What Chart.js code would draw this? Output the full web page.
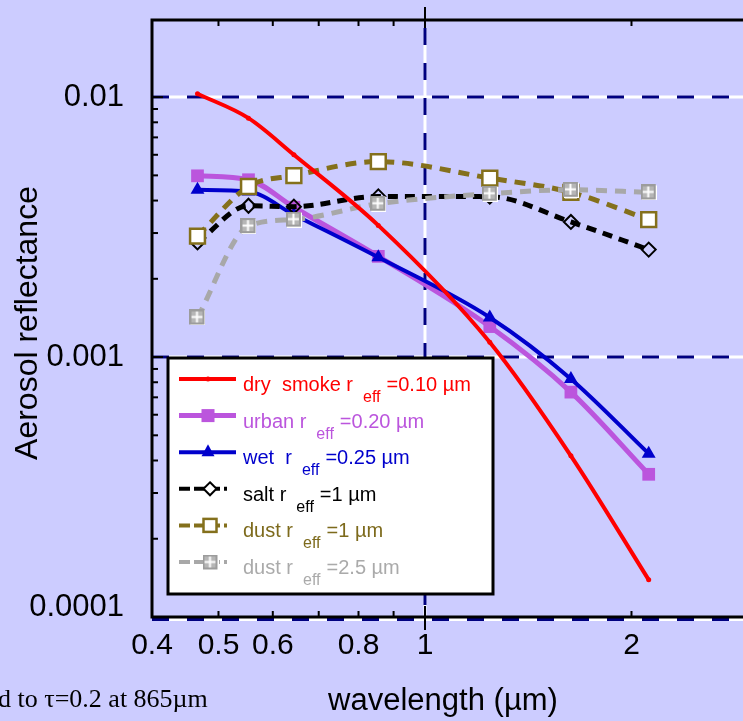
<!DOCTYPE html>
<html>
<head>
<meta charset="utf-8">
<script src="https://cdn.jsdelivr.net/npm/chart.js@4.4.0/dist/chart.umd.min.js"></script>
<style>
  html, body { margin: 0; padding: 0; background: #ccccff; overflow: hidden; }
  canvas { display: block; }
</style>
</head>
<body>
<canvas id="myChart" width="743" height="721"></canvas>
<script>
const ctx = document.getElementById('myChart');

// wavelength (um) and aerosol reflectance
const wavelengths = [0.466, 0.553, 0.644, 0.855, 1.243, 1.632, 2.119];
const drySmoke = [0.0103, 0.0083, 0.0060, 0.00321, 0.00114, 0.000417, 0.000139];
const urban = [0.00498, 0.00481, 0.00377, 0.00244, 0.00131, 0.000733, 0.000354];
const wet = [0.00440, 0.00433, 0.00353, 0.00242, 0.00142, 0.000824, 0.000425];
const salt = [0.00276, 0.00382, 0.00379, 0.00415, 0.00414, 0.00331, 0.00259];
const dust1 = [0.00292, 0.00453, 0.00499, 0.00565, 0.00488, 0.00430, 0.00338];
const dust25 = [0.00142, 0.00319, 0.00338, 0.00389, 0.00425, 0.00440, 0.00430];

const xTickLabels = [0.4, 0.5, 0.6, 0.8, 1, 2];
const xMinorTicks = [0.5, 0.6, 0.7, 0.8, 0.9, 2];
const yTickLabels = [0.01, 0.001, 0.0001];
const yMinorTicks = [0.0002, 0.0003, 0.0004, 0.0005, 0.0006, 0.0007, 0.0008, 0.0009,
  0.002, 0.003, 0.004, 0.005, 0.006, 0.007, 0.008, 0.009];

const font = '"Liberation Sans", Arial, sans-serif';
const olive = '#84701c';
const grey = '#a8a8a8';

// grey "boxed plus" marker
const gridMark = document.createElement('canvas');
gridMark.width = 16; gridMark.height = 16;
(function () {
  const g = gridMark.getContext('2d');
  g.fillStyle = '#ffffff'; g.fillRect(1, 1, 15, 15);
  g.fillStyle = '#9c9c9c'; g.fillRect(0, 0, 15, 15);
  g.fillStyle = '#b6b6b6'; g.fillRect(2, 2, 11, 11);
  g.fillStyle = '#ffffff'; g.fillRect(6.5, 2, 2, 11); g.fillRect(2, 6.5, 11, 2);
})();

const pts = arr => wavelengths.map((w, i) => ({ x: w, y: arr[i] }));

const legendRows = [
  { main: 'dry  smoke r', sub: 'eff', rest: '=0.10 \u00b5m', color: '#ff0000', text: '#ff0000', width: 4, dash: [], mark: 'dot' },
  { main: 'urban r', sub: 'eff', rest: '=0.20 \u00b5m', color: '#bb55dd', text: '#bb55dd', width: 5, dash: [], mark: 'square' },
  { main: 'wet  r', sub: 'eff', rest: '=0.25 \u00b5m', color: '#0000cc', text: '#0000cc', width: 4, dash: [], mark: 'triangle' },
  { main: 'salt r', sub: 'eff', rest: '=1 \u00b5m', color: '#000000', text: '#000000', width: 4, dash: [11, 4], mark: 'diamond' },
  { main: 'dust r', sub: 'eff', rest: '=1 \u00b5m', color: olive, text: '#7d6a1c', width: 4, dash: [11, 4], mark: 'open' },
  { main: 'dust r', sub: 'eff', rest: '=2.5 \u00b5m', color: grey, text: '#aaaaaa', width: 4, dash: [11, 4], mark: 'grid' }
];

function drawMark(c, kind, color, x, y) {
  c.save();
  c.setLineDash([]);
  if (kind === 'dot') {
    c.fillStyle = color; c.beginPath(); c.arc(x, y, 2.5, 0, Math.PI * 2); c.fill();
  } else if (kind === 'square') {
    c.fillStyle = color; c.fillRect(x - 6.5, y - 6.5, 13, 13);
  } else if (kind === 'triangle') {
    c.fillStyle = color; c.beginPath();
    c.moveTo(x, y - 8); c.lineTo(x + 6.5, y + 4); c.lineTo(x - 6.5, y + 4); c.closePath(); c.fill();
  } else if (kind === 'diamond') {
    c.strokeStyle = color; c.lineWidth = 2; c.fillStyle = '#ffffff'; c.beginPath();
    c.moveTo(x, y - 6.5); c.lineTo(x + 6.5, y); c.lineTo(x, y + 6.5); c.lineTo(x - 6.5, y); c.closePath();
    c.fill(); c.stroke();
  } else if (kind === 'open') {
    c.fillStyle = '#ffffff'; c.strokeStyle = color; c.lineWidth = 2.5;
    c.fillRect(x - 6.5, y - 6.5, 13, 13); c.strokeRect(x - 6.5, y - 6.5, 13, 13);
  } else if (kind === 'grid') {
    c.drawImage(gridMark, x - 7.5, y - 7.5);
  }
  c.restore();
}

const decorations = {
  id: 'decorations',
  beforeDatasetsDraw(chart) {
    const c = chart.ctx;
    const a = chart.chartArea;
    const xs = chart.scales.x, ys = chart.scales.y;
    const dashed = (x1, y1, x2, y2) => {
      c.save();
      c.lineWidth = 3;
      c.strokeStyle = '#ffffff';
      c.beginPath(); c.moveTo(x1, y1); c.lineTo(x2, y2); c.stroke();
      c.setLineDash([17, 18]);
      c.strokeStyle = '#000080';
      c.beginPath(); c.moveTo(x1, y1); c.lineTo(x2, y2); c.stroke();
      c.restore();
    };
    yTickLabels.forEach(v => {
      let py = ys.getPixelForValue(v);
      if (v === 0.0001) py += 2.5;
      dashed(a.left, py, a.right, py);
    });
    const px = xs.getPixelForValue(1);
    dashed(px, a.top + 8, px, a.bottom);
  },
  afterDatasetsDraw(chart) {
    const c = chart.ctx;
    const a = chart.chartArea;
    const xs = chart.scales.x, ys = chart.scales.y;
    c.save();
    c.strokeStyle = '#000000';
    // frame
    c.lineWidth = 3;
    c.beginPath();
    c.moveTo(a.right, a.top); c.lineTo(a.left, a.top); c.lineTo(a.left, a.bottom); c.lineTo(a.right, a.bottom);
    c.stroke();
    // ticks pointing inward
    c.lineWidth = 2;
    xMinorTicks.forEach(v => {
      const px = xs.getPixelForValue(v);
      c.beginPath(); c.moveTo(px, a.top); c.lineTo(px, a.top + 6); c.stroke();
      c.beginPath(); c.moveTo(px, a.bottom); c.lineTo(px, a.bottom - 6); c.stroke();
    });
    const one = xs.getPixelForValue(1);
    c.beginPath(); c.moveTo(one, a.top - 13); c.lineTo(one, a.top + 8); c.stroke();
    c.beginPath(); c.moveTo(one, a.bottom - 11); c.lineTo(one, a.bottom + 13); c.stroke();
    yMinorTicks.forEach(v => {
      const py = ys.getPixelForValue(v);
      c.beginPath(); c.moveTo(a.left, py); c.lineTo(a.left + 6, py); c.stroke();
    });
    [0.01, 0.001].forEach(v => {
      const py = ys.getPixelForValue(v);
      c.beginPath(); c.moveTo(a.left, py); c.lineTo(a.left + 11, py); c.stroke();
    });

    // tick labels
    c.fillStyle = '#000000';
    c.font = '30px ' + font;
    c.textAlign = 'center';
    c.textBaseline = 'middle';
    xTickLabels.forEach(v => c.fillText(String(v), xs.getPixelForValue(v), 646));
    c.textAlign = 'right';
    c.font = '31px ' + font;
    yTickLabels.forEach(v => {
      let py = ys.getPixelForValue(v);
      if (v === 0.0001) py -= 10;
      c.fillText(String(v), 124, py);
    });

    // axis titles
    c.textBaseline = 'alphabetic';
    c.textAlign = 'center';
    c.font = '31px ' + font;
    c.fillText('wavelength (\u00b5m)', 443, 710);
    c.save();
    c.translate(37, 323);
    c.rotate(-Math.PI / 2);
    c.font = '32px ' + font;
    c.fillText('Aerosol reflectance', 0, 0);
    c.restore();

    // note at bottom left (cut by the edge)
    c.textAlign = 'left';
    c.font = '26px "Liberation Serif", "Times New Roman", serif';
    c.fillText('d to \u03c4=0.2 at 865\u00b5m', -2, 707);

    // legend box
    c.fillStyle = '#ffffff';
    c.fillRect(168, 358, 325, 236);
    c.lineWidth = 3;
    c.strokeRect(168, 358, 325, 236);
    legendRows.forEach((r, i) => {
      const ly = 379 + i * 36.6;
      c.save();
      c.strokeStyle = r.color;
      c.lineWidth = r.width;
      c.setLineDash(r.dash);
      c.beginPath();
      c.moveTo(179, ly);
      c.lineTo(r.dash.length ? 227 : 236, ly);
      c.stroke();
      c.restore();
      drawMark(c, r.mark, r.color, r.dash.length ? 210 : 208, ly);
      c.fillStyle = r.text;
      c.font = '20px ' + font;
      let tx = 243;
      c.fillText(r.main, tx, ly + 12);
      tx += c.measureText(r.main).width + 10;
      c.font = '16px ' + font;
      c.fillText(r.sub, tx, ly + 23);
      tx += c.measureText(r.sub).width + 6;
      c.font = '20px ' + font;
      c.fillText(r.rest, tx, ly + 12);
    });
    c.restore();
  }
};

new Chart(ctx, {
  type: 'line',
  data: {
    datasets: [
      {
        label: 'dry smoke', data: pts(drySmoke), order: 0,
        borderColor: '#ff0000', backgroundColor: '#ff0000', borderWidth: 4,
        pointStyle: 'circle', pointRadius: 2.5, pointBorderWidth: 0,
        cubicInterpolationMode: 'monotone'
      },
      {
        label: 'urban', data: pts(urban), order: 5,
        borderColor: '#bb55dd', backgroundColor: '#bb55dd', borderWidth: 5,
        pointStyle: 'rect', pointRadius: 9, pointBorderWidth: 0,
        cubicInterpolationMode: 'monotone'
      },
      {
        label: 'wet', data: pts(wet), order: 4,
        borderColor: '#0000cc', backgroundColor: '#0000cc', borderWidth: 4,
        pointStyle: 'triangle', pointRadius: 8, pointBorderWidth: 0,
        cubicInterpolationMode: 'monotone'
      },
      {
        label: 'salt', data: pts(salt), order: 3,
        borderColor: '#000000', borderWidth: 5, borderDash: [10, 7],
        pointStyle: 'rectRot', pointRadius: 7, pointBorderWidth: 2,
        pointBorderColor: '#000000', pointBackgroundColor: 'rgba(0,0,0,0)',
        cubicInterpolationMode: 'monotone'
      },
      {
        label: 'dust 1', data: pts(dust1), order: 2,
        borderColor: olive, borderWidth: 5, borderDash: [11, 8],
        pointStyle: 'rect', pointRadius: 10.5, pointBorderWidth: 2.5,
        pointBorderColor: olive, pointBackgroundColor: '#ffffff',
        cubicInterpolationMode: 'monotone'
      },
      {
        label: 'dust 2.5', data: pts(dust25), order: 1,
        borderColor: grey, borderWidth: 5, borderDash: [11, 8],
        pointStyle: gridMark, pointRadius: 8,
        cubicInterpolationMode: 'monotone'
      }
    ]
  },
  options: {
    responsive: false,
    animation: false,
    events: [],
    layout: { autoPadding: false, padding: { left: 152, top: 20, right: 0, bottom: 104 } },
    scales: {
      x: { type: 'logarithmic', min: 0.4, max: 2.908, bounds: 'data', display: false },
      y: { type: 'logarithmic', min: 0.0001, max: 0.0198, bounds: 'data', display: false }
    },
    plugins: {
      legend: { display: false },
      tooltip: { enabled: false }
    }
  },
  plugins: [decorations]
});
</script>
</body>
</html>
